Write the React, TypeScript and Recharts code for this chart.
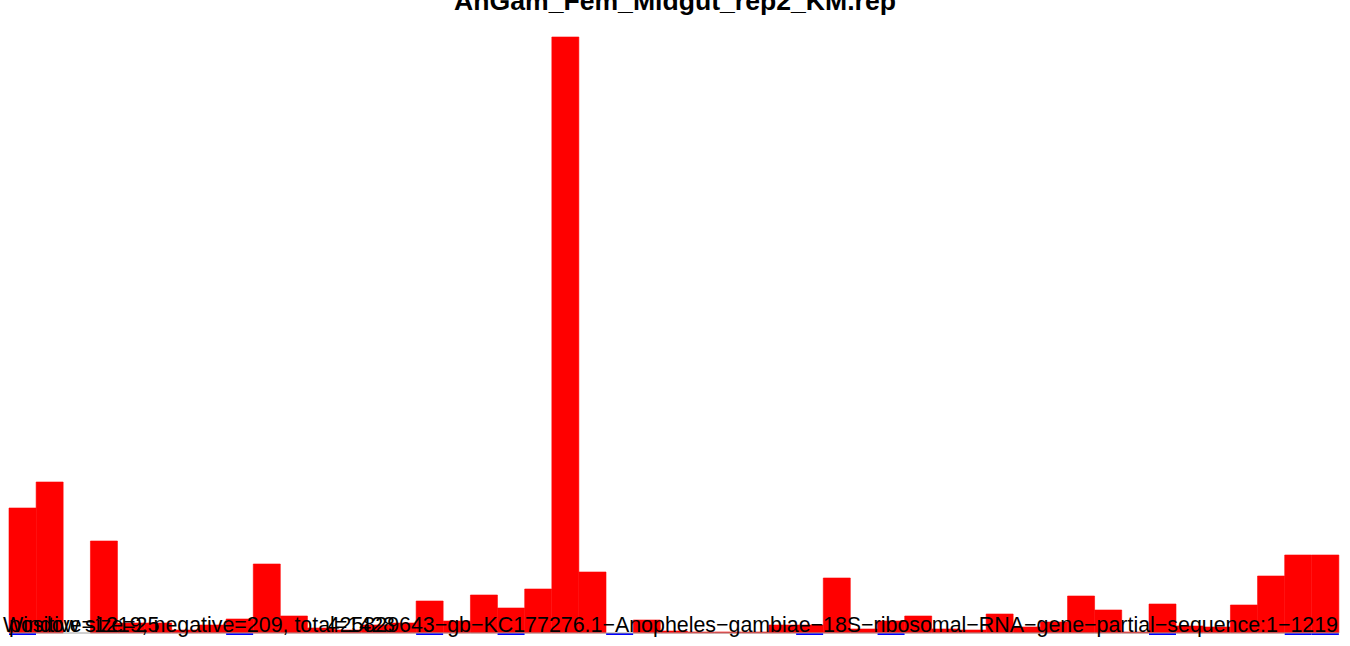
import React from 'react';
import { BarChart, Bar, XAxis, YAxis, ReferenceLine } from 'recharts';

const title = 'AnGam_Fem_Midgut_rep2_KM.rep';
const windowLabel = 'Window size=25';
const countLabel = 'positive=1219, negative=209, total=1428';
const seqLabel =
  '425829643\u2212gb\u2212KC177276.1\u2212Anopheles\u2212gambiae\u221218S\u2212ribosomal\u2212RNA\u2212gene\u2212partial\u2212sequence:1\u22121219';

// window start positions (25 nt windows over 1..1219)
const windows = [
  1, 26, 51, 76, 101, 126, 151, 176, 201, 226, 251, 276, 301, 326, 351, 376,
  401, 426, 451, 476, 501, 526, 551, 576, 601, 626, 651, 676, 701, 726, 751,
  776, 801, 826, 851, 876, 901, 926, 951, 976, 1001, 1026, 1051, 1076, 1101,
  1126, 1151, 1176, 1201,
];

const positive = [
  125, 151, 0, 92, 10, 10, 3, 8, 14, 69, 17, 5, 3, 8, 10, 32, 12, 38, 25, 44,
  596, 61, 0, 13, 2, 1, 1, 1, 8, 8, 55, 4, 12, 17, 4, 3, 19, 6, 11, 37, 23, 1,
  29, 7, 6, 28, 57, 78, 78,
];

const negative = [
  -2, 0, 0, 0, 0, 0, 0, 0, -2, 0, 0, 0, 0, 0, 0, -2, 0, 0, -2, 0, 0, 0, -2, 0,
  0, 0, 0, 0, 0, -2, 0, 0, -2, 0, 0, 0, 0, 0, 0, 0, 0, 0, -2, 0, 0, 0, 0, -2,
  -2,
];

const data = windows.map((w, i) => ({
  pos: w,
  plus: positive[i],
  minus: negative[i],
}));

const font = '"Liberation Sans", Arial, Helvetica, sans-serif';

export default function App() {
  return (
    <div style={{ position: 'absolute', left: 0, top: 0, width: 1350, height: 646, background: '#fff' }}>
      <BarChart
        width={1350}
        height={646}
        data={data}
        margin={{ top: 37, right: 11, left: 9, bottom: 10 }}
        barCategoryGap={0}
        barGap={0}
        stackOffset="sign"
      >
        <XAxis dataKey="pos" hide />
        <YAxis hide domain={[-3, 596]} />
        <Bar dataKey="plus" stackId="s" fill="#ff0000" stroke="#ff0000" strokeWidth={0.6} isAnimationActive={false} />
        <Bar dataKey="minus" stackId="s" fill="#0000ff" isAnimationActive={false} />
        <ReferenceLine y={0} stroke="#a0a0a0" strokeWidth={1} />
      </BarChart>
      <svg
        width={1350}
        height={646}
        style={{ position: 'absolute', left: 0, top: 0, pointerEvents: 'none' }}
      >
        <text x={675} y={10} textAnchor="middle" fontFamily={font} fontWeight="bold" fontSize={26.6} fill="#000">
          {title}
        </text>
        <text x={3} y={632} fontFamily={font} fontSize={21.4} fill="#000">
          {windowLabel}
        </text>
        <text x={9} y={632} fontFamily={font} fontSize={21.4} fill="#000">
          {countLabel}
        </text>
        <text x={1338} y={632} textAnchor="end" fontFamily={font} fontSize={21.4} fill="#000">
          {seqLabel}
        </text>
      </svg>
    </div>
  );
}
